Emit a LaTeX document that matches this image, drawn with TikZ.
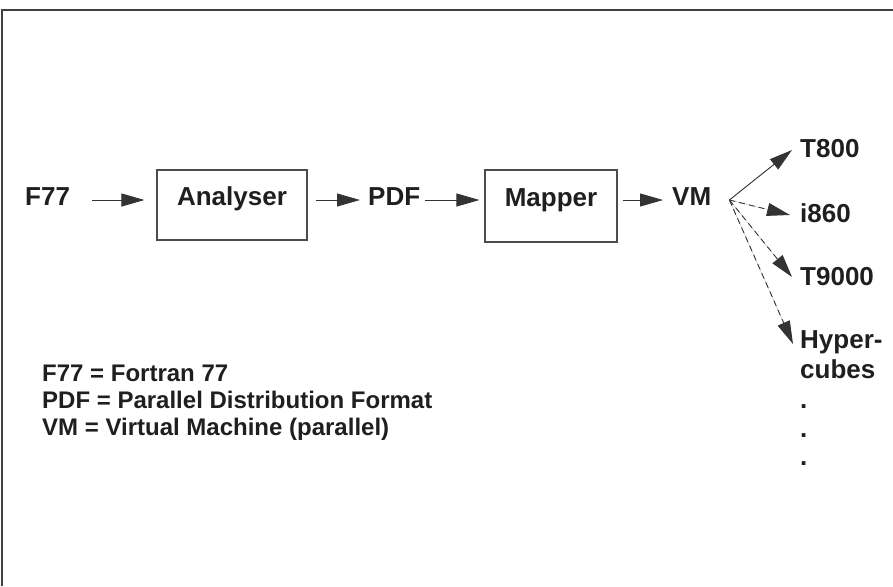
\documentclass[tikz,border=0pt]{standalone}
\usepackage{fontspec}
\setmainfont{Liberation Sans}
\usetikzlibrary{arrows.meta}
\begin{document}
\begin{tikzpicture}[x=1pt,y=-1pt,
  lbl/.style={font=\bfseries\fontsize{26}{27}\selectfont, inner sep=0pt, anchor=base west, text=black!88},
  procbox/.style={draw=black!70, line width=1.1pt, inner sep=0pt, text height=12pt, text depth=12pt,
    font=\bfseries\fontsize{26}{27}\selectfont, text=black!88},
  arr/.style={-{Triangle[length=23pt,width=13pt]}, line width=0.9pt, draw=black!80, fill=black!80},
  darr/.style={arr, dash pattern=on 6pt off 4pt},
  frame/.style={draw=black!75, line width=1.6pt}
]
\useasboundingbox (0,0) rectangle (893,586);
% frame
\coordinate (ftl) at (2,10);
\coordinate (ftr) at (893,10);
\coordinate (fbl) at (2,586);
\draw[frame] (ftr) -- (ftl) -- (fbl);

% main row
\node[lbl] (f77) at (25,205) {F77};
\node[procbox, minimum width=150pt, minimum height=70pt] (an) at (232,205) {Analyser};
\node[lbl] (pdf) at (368,205) {PDF};
\node[procbox, minimum width=132pt, minimum height=72pt] (mp) at (551,206) {Mapper};
\node[lbl] (vm) at (672,205) {VM};

\draw[arr] ([xshift=22pt,yshift=5pt]f77.base east) -- ([xshift=-12pt,yshift=5pt]an.west);
\draw[arr] ([xshift=8pt,yshift=5pt]an.east) -- ([xshift=-8pt,yshift=5pt]pdf.base west);
\draw[arr] ([xshift=5pt,yshift=5pt]pdf.base east) -- ([xshift=-5pt,yshift=6pt]mp.west);
\draw[arr] ([xshift=5pt,yshift=6pt]mp.east) -- ([xshift=-9pt,yshift=5pt]vm.base west);

% targets
\coordinate (o) at ([xshift=18pt,yshift=5pt]vm.base east);
\node[lbl] (t800) at (800,157) {T800};
\node[lbl] (i860) at (800,222) {i860};
\node[lbl] (t9000) at (800,285) {T9000};
\node[lbl, align=left, font=\bfseries\fontsize{26}{30}\selectfont] (hyp) at (800,378) {Hyper-\\cubes};
\node[lbl] (d1) at (800,408) {.};
\node[lbl] (d2) at (800,437) {.};
\node[lbl] (d3) at (800,465) {.};

\draw[arr] (o) -- ([xshift=-8pt,yshift=7pt]t800.base west);
\draw[darr] (o) -- ([xshift=-10pt,yshift=7pt]i860.base west);
\draw[darr] (o) -- ([xshift=-8pt,yshift=8pt]t9000.base west);
\draw[darr] (o) -- ([xshift=-7pt,yshift=34pt]hyp.base west);

% legend
\node[lbl, align=left, font=\bfseries\fontsize{24}{27}\selectfont] (leg) at (42,435)
  {F77 = Fortran 77\\PDF = Parallel Distribution Format\\VM = Virtual Machine (parallel)};
\end{tikzpicture}
\end{document}
